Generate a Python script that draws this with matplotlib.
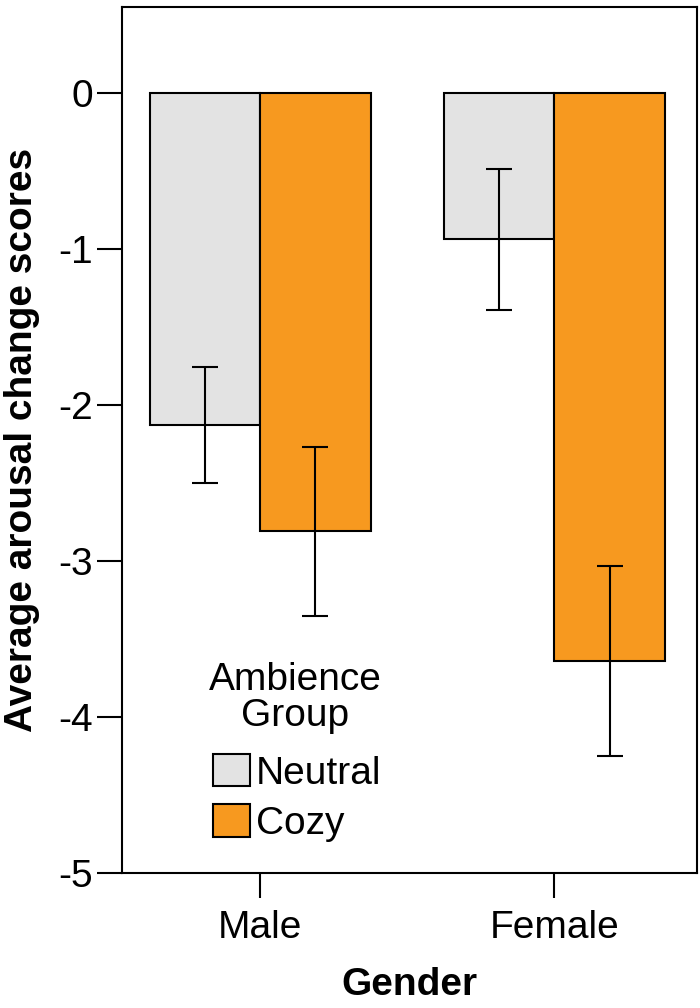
import matplotlib
matplotlib.use("Agg")
import matplotlib.pyplot as plt
import matplotlib.transforms as mtransforms
import numpy as np

plt.rcParams['font.family'] = ['Liberation Sans', 'DejaVu Sans']

genders = ["Male", "Female"]
groups = ["Neutral", "Cozy"]
neutral_means = [-2.13, -0.94]
cozy_means = [-2.81, -3.64]
neutral_err = [0.37, 0.45]
cozy_err = [0.54, 0.61]
yticks = [0, -1, -2, -3, -4, -5]

colors = {"Neutral": "#E3E3E3", "Cozy": "#F7991F"}

W, H = 700, 1008
fig = plt.figure(figsize=(W / 100, H / 100), dpi=100)
ax = fig.add_axes([122 / W, 1 - 873 / H, (697 - 122) / W, (873 - 7) / H])

x = np.arange(len(genders))
width = 0.375
for off, means, errs, name in [(-width / 2, neutral_means, neutral_err, "Neutral"),
                                (width / 2, cozy_means, cozy_err, "Cozy")]:
    ax.bar(x + off, means, width, color=colors[name], edgecolor="black",
           linewidth=1.5, label=name, zorder=2)
    ax.errorbar(x + off, means, yerr=errs, fmt="none", ecolor="black",
                elinewidth=1.5, capsize=9.5, capthick=1.5, zorder=3)

ax.set_xlim(-0.47, 1.485)
ax.set_ylim(-5, 0.55)
ax.set_yticks(yticks)
ax.set_yticklabels([str(t) for t in yticks])
ax.set_xticks(x)
ax.set_xticklabels(genders)
ax.tick_params(axis="both", direction="out", length=18, width=1.5,
               labelsize=28, pad=3)
ax.tick_params(axis="x", pad=9)
for s in ax.spines.values():
    s.set_linewidth(1.5)

ax.set_xlabel("Gender", fontsize=28, fontweight="bold", labelpad=15)
ax.set_ylabel("Average arousal change scores", fontsize=28,
              fontweight="bold", labelpad=13)

# legend title drawn as centred two-line text (pixel coordinates, top-down)
pix = mtransforms.Affine2D().scale(1, -1).translate(0, H)
ax.text(295, 662, "Ambience\nGroup", transform=pix, fontsize=28,
        ha="center", va="top", linespacing=1.0)

leg = ax.legend(loc="upper left",
                bbox_to_anchor=((213 - 122) / 575, (873 - 754) / 866),
                frameon=False, fontsize=28,
                handlelength=0.95, handleheight=0.9, handletextpad=0.15,
                labelspacing=0.33, borderpad=0, borderaxespad=0)

fig.savefig("out.png", dpi=100)
